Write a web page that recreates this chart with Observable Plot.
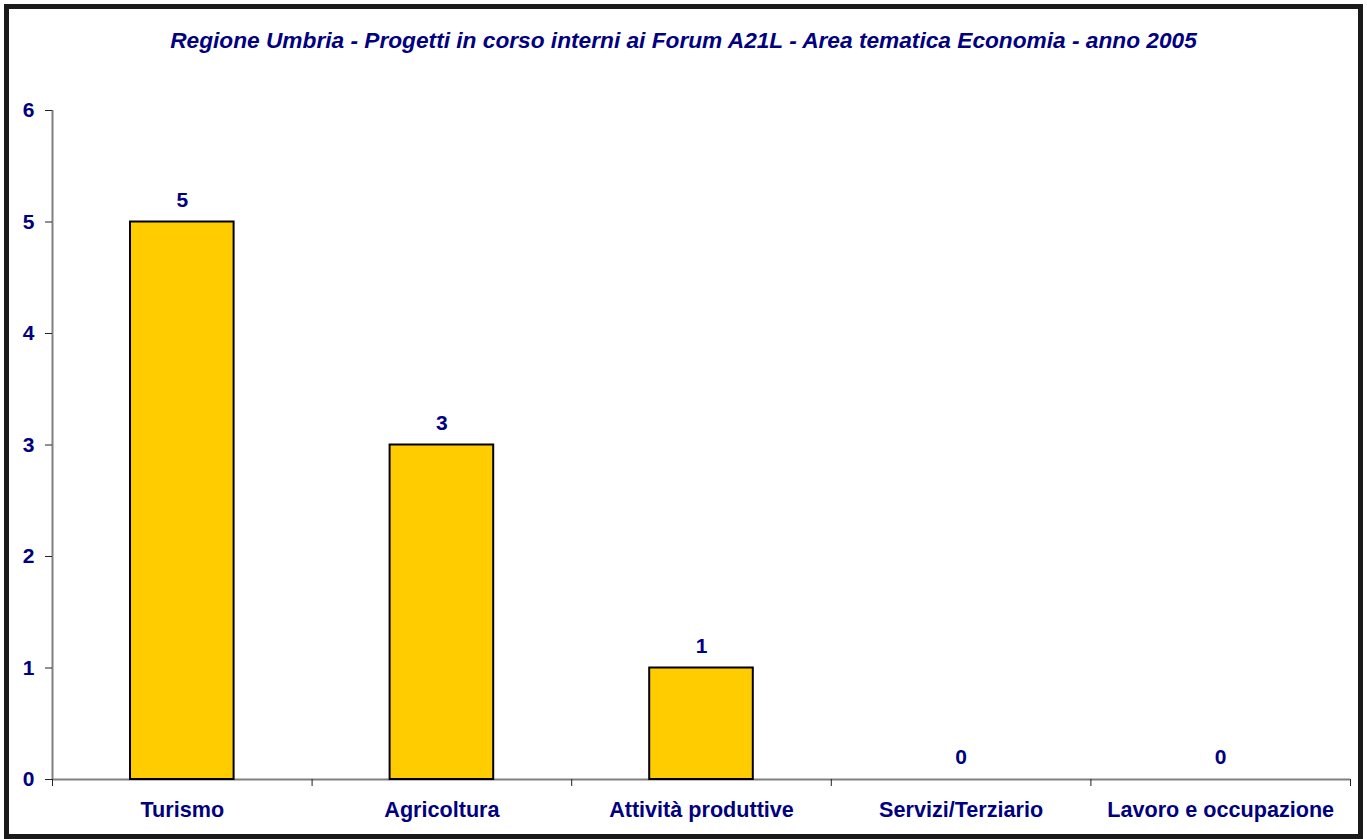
<!DOCTYPE html>
<html><head><meta charset="utf-8">
<script src="https://cdn.jsdelivr.net/npm/d3@7"></script>
<script src="https://cdn.jsdelivr.net/npm/@observablehq/plot@0.6"></script>
<style>
body{margin:0;background:#fff;}
#wrap{position:relative;width:1367px;height:839px;overflow:hidden;font-family:"Liberation Sans",Arial,sans-serif;}
#frame{position:absolute;left:4px;top:4px;width:1349px;height:825px;border:5px solid #1a1a1a;pointer-events:none;}
#title{position:absolute;left:0;width:1367px;top:27px;text-align:center;color:#000080;font-weight:bold;font-style:italic;font-size:22.7px;line-height:26px;white-space:nowrap;}
#chart{position:absolute;left:0;top:0;}
</style>
</head><body>
<div id="wrap">
  <div id="chart"></div>
  <div id="title">Regione Umbria - Progetti in corso interni ai Forum A21L - Area tematica Economia - anno 2005</div>
  <div id="frame"></div>
</div>
<script>
const categories = ["Turismo","Agricoltura","Attività produttive","Servizi/Terziario","Lavoro e occupazione"];
const values = [5,3,1,0,0];
const yTicks = [0,1,2,3,4,5,6];

const data = categories.map((c,i)=>({category:c, index:i, value:values[i]}));
const navy = "#000080";
const font = 21;

const plot = Plot.plot({
  width:1367, height:839,
  marginLeft:52, marginRight:17, marginTop:110, marginBottom:60,
  x:{domain:[0,categories.length], label:null},
  y:{domain:[0,6], label:null},
  style:{fontFamily:"'Liberation Sans', Arial, sans-serif", background:"transparent"},
  marks:[
    Plot.ruleY([0], {x1:0, x2:categories.length, stroke:"#808080", strokeWidth:2}),
    Plot.ruleX([0], {y1:0, y2:6, stroke:"#808080", strokeWidth:2}),
    Plot.rectY(data.filter(d=>d.value>0), {x1:"index", x2:d=>d.index+1, y:"value", insetLeft:78, insetRight:78, fill:"#FFCC00", stroke:"#000", strokeWidth:2}),
    Plot.axisY({ticks:yTicks, tickSize:7, tickPadding:11, fontSize:font, fontWeight:"bold", fill:navy, stroke:"#222", tickFormat:d=>String(d), label:null}),
    Plot.axisX({ticks:d3.range(categories.length+1), tickSize:7, tickFormat:()=>"", stroke:"#222", label:null}),
    Plot.text(data, {x:d=>d.index+0.5, y:0, text:"category", dy:31, fontSize:21.6, fontWeight:"bold", fill:navy}),
    Plot.text(data, {x:d=>d.index+0.5, y:"value", text:d=>String(d.value), dy:-22, fontSize:font, fontWeight:"bold", fill:navy})
  ]
});
document.getElementById("chart").appendChild(plot);
</script>
</body></html>
